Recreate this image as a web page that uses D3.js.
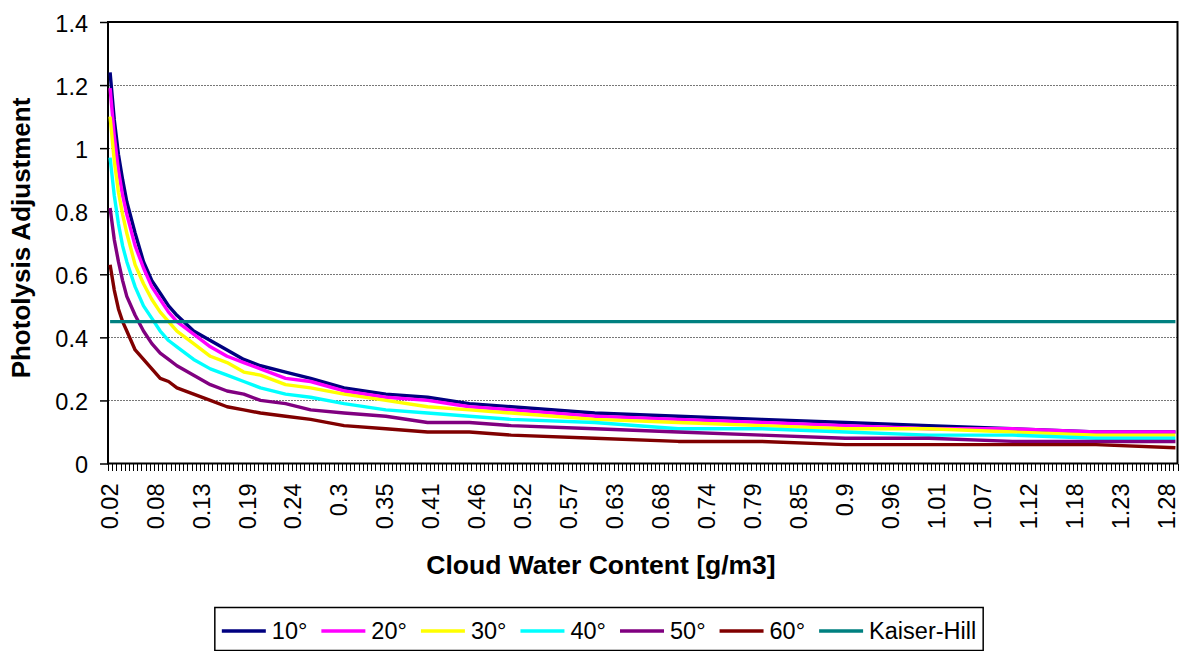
<!DOCTYPE html>
<html>
<head>
<meta charset="utf-8">
<script src="https://cdn.jsdelivr.net/npm/d3@7"></script>
<style>
  body { margin: 0; background: #fff; }
  svg { display: block; font-family: "Liberation Sans", Arial, sans-serif; }
</style>
</head>
<body>
<svg id="chart" width="1182" height="651"></svg>
<script>
// 1. Data
    // cloud water content [g/m3] at the sampled categories
    const cwc = [0.02, 0.025, 0.03, 0.035, 0.04, 0.05, 0.06, 0.07, 0.08, 0.09, 0.10, 0.12, 0.14, 0.16, 0.18,
                 0.20, 0.23, 0.26, 0.30, 0.35, 0.40, 0.45, 0.50, 0.60, 0.70, 0.80, 0.90, 1.00, 1.10, 1.20, 1.295];

    const deg10 = [1.24, 1.09, 0.98, 0.90, 0.83, 0.73, 0.64, 0.58, 0.54, 0.50, 0.47, 0.42, 0.39, 0.36, 0.33,
                   0.31, 0.29, 0.27, 0.24, 0.22, 0.21, 0.19, 0.18, 0.16, 0.15, 0.14, 0.13, 0.12, 0.11, 0.10, 0.10];
    const deg20 = [1.19, 1.04, 0.93, 0.85, 0.79, 0.69, 0.62, 0.56, 0.52, 0.48, 0.45, 0.41, 0.37, 0.34, 0.32,
                   0.30, 0.27, 0.26, 0.23, 0.21, 0.20, 0.18, 0.17, 0.15, 0.14, 0.13, 0.12, 0.11, 0.11, 0.10, 0.10];
    const deg30 = [1.10, 0.96, 0.86, 0.79, 0.73, 0.63, 0.57, 0.52, 0.48, 0.45, 0.42, 0.38, 0.34, 0.32, 0.29,
                   0.28, 0.25, 0.24, 0.22, 0.20, 0.18, 0.17, 0.16, 0.14, 0.13, 0.12, 0.11, 0.11, 0.10, 0.09, 0.09];
    const deg40 = [0.97, 0.85, 0.76, 0.69, 0.64, 0.56, 0.50, 0.46, 0.42, 0.39, 0.37, 0.33, 0.30, 0.28, 0.26,
                   0.24, 0.22, 0.21, 0.19, 0.17, 0.16, 0.15, 0.14, 0.13, 0.11, 0.11, 0.10, 0.09, 0.09, 0.08, 0.08];
    const deg50 = [0.81, 0.71, 0.64, 0.58, 0.53, 0.47, 0.42, 0.38, 0.35, 0.33, 0.31, 0.28, 0.25, 0.23, 0.22,
                   0.20, 0.19, 0.17, 0.16, 0.15, 0.13, 0.13, 0.12, 0.11, 0.10, 0.09, 0.08, 0.08, 0.07, 0.07, 0.07];
    const deg60 = [0.63, 0.55, 0.49, 0.45, 0.42, 0.36, 0.33, 0.30, 0.27, 0.26, 0.24, 0.22, 0.20, 0.18, 0.17,
                   0.16, 0.15, 0.14, 0.12, 0.11, 0.10, 0.10, 0.09, 0.08, 0.07, 0.07, 0.06, 0.06, 0.06, 0.06, 0.05];
    const kaiserHill = [0.45, 0.45, 0.45, 0.45, 0.45, 0.45, 0.45, 0.45, 0.45, 0.45, 0.45, 0.45, 0.45, 0.45, 0.45,
                        0.45, 0.45, 0.45, 0.45, 0.45, 0.45, 0.45, 0.45, 0.45, 0.45, 0.45, 0.45, 0.45, 0.45, 0.45, 0.45];

    const seriesNames = ["10°", "20°", "30°", "40°", "50°", "60°", "Kaiser-Hill"];
    const seriesColors = ["#000080", "#FF00FF", "#FFFF00", "#00FFFF", "#800080", "#800000", "#008080"];
    const seriesValues = [deg10, deg20, deg30, deg40, deg50, deg60, kaiserHill];

    // labelled categories on the x axis
    const xTickValues = [0.02, 0.075, 0.13, 0.185, 0.24, 0.295, 0.35, 0.405, 0.46, 0.515, 0.57, 0.625,
                         0.68, 0.735, 0.79, 0.845, 0.9, 0.955, 1.01, 1.065, 1.12, 1.175, 1.23, 1.285];
    const xTickLabels = ["0.02", "0.08", "0.13", "0.19", "0.24", "0.3", "0.35", "0.41", "0.46", "0.52", "0.57", "0.63",
                         "0.68", "0.74", "0.79", "0.85", "0.9", "0.96", "1.01", "1.07", "1.12", "1.18", "1.23", "1.28"];
    const yTickValues = [0, 0.2, 0.4, 0.6, 0.8, 1.0, 1.2, 1.4];
    const yTickLabels = ["0", "0.2", "0.4", "0.6", "0.8", "1", "1.2", "1.4"];

// 2. Plot frame
    const svg = d3.select("#chart");
    const plotLeft = 108, plotRight = 1177.5, plotTop = 22, plotBottom = 463.5;
    const catStep = 0.005, nCat = 256;

    const x = d3.scaleLinear()
       .domain([0.02 - catStep / 2, 0.02 + (nCat - 0.5) * catStep])
       .range([plotLeft, plotRight]);
    const y = d3.scaleLinear().domain([0, 1.4]).range([plotBottom, plotTop]);

    svg.append("rect").attr("width", 1182).attr("height", 651).attr("fill", "#fff");

// 3. Gridlines
    svg.append("g")
       .selectAll("line")
       .data(yTickValues.filter(d => d > 0 && d < 1.4))
       .enter()
       .append("line")
       .attr("x1", plotLeft).attr("x2", plotRight)
       .attr("y1", d => Math.round(y(d)) + 0.5).attr("y2", d => Math.round(y(d)) + 0.5)
       .attr("stroke", "#777")
       .attr("stroke-width", 1)
       .attr("stroke-dasharray", "2,1");

// 4. Axes
    const yAxis = svg.append("g")
       .attr("transform", `translate(${plotLeft},0)`)
       .call(d3.axisLeft(y).tickValues(yTickValues).tickSize(8).tickPadding(12)
               .tickFormat((d, i) => yTickLabels[i]));
    yAxis.select(".domain").remove();
    yAxis.selectAll("line").attr("stroke", "#000").attr("stroke-width", 1.5);
    yAxis.selectAll("text")
         .attr("fill", "#000")
         .attr("font-size", "23.5px")
         .attr("font-family", "'Liberation Sans', Arial, sans-serif")
         .attr("dy", "0.4em");

    // a tick mark on every category boundary
    const boundaries = d3.range(nCat + 1).map(i => 0.02 - catStep / 2 + i * catStep);
    const minor = svg.append("g")
       .attr("transform", `translate(0,${plotBottom})`)
       .call(d3.axisBottom(x).tickValues(boundaries).tickSize(7).tickFormat(""));
    minor.select(".domain").remove();
    minor.selectAll("line").attr("stroke", "#000").attr("stroke-width", 1).attr("shape-rendering", "crispEdges");

    const xAxis = svg.append("g")
       .attr("transform", `translate(0,${plotBottom})`)
       .call(d3.axisBottom(x).tickValues(xTickValues).tickSize(0).tickFormat((d, i) => xTickLabels[i]));
    xAxis.select(".domain").remove();
    xAxis.selectAll("text")
         .attr("fill", "#000")
         .attr("font-size", "23.5px")
         .attr("font-family", "'Liberation Sans', Arial, sans-serif")
         .attr("text-anchor", "end")
         .attr("transform", "rotate(-90)")
         .attr("x", -20)
         .attr("y", 0)
         .attr("dy", "0.3em");

    // plot border and axis lines
    svg.append("rect")
       .attr("x", plotLeft).attr("y", plotTop)
       .attr("width", plotRight - plotLeft).attr("height", plotBottom - plotTop)
       .attr("fill", "none")
       .attr("stroke", "#000")
       .attr("stroke-width", 2);

// 5. Series lines
    const line = d3.line()
       .x((d, i) => x(cwc[i]))
       .y(d => y(d));

    svg.append("g")
       .selectAll("path")
       .data(seriesValues)
       .enter()
       .append("path")
       .attr("d", line)
       .attr("fill", "none")
       .attr("stroke", (d, i) => seriesColors[i])
       .attr("stroke-width", 3.4)
       .attr("stroke-linejoin", "round");

// 6. Axis titles
    svg.append("text")
       .attr("x", 601).attr("y", 574)
       .attr("text-anchor", "middle")
       .attr("font-size", "26.5px")
       .attr("font-weight", "bold")
       .text("Cloud Water Content [g/m3]");

    svg.append("text")
       .attr("transform", "translate(30,238) rotate(-90)")
       .attr("text-anchor", "middle")
       .attr("font-size", "26px")
       .attr("font-weight", "bold")
       .text("Photolysis Adjustment");

// 7. Legend
    const legendBox = svg.append("rect");
    const legend = svg.append("g");
    const swatch = 44, gap = 6, spacing = 14, pad = 7;
    let lx = 0;
    seriesNames.forEach(function(name, i) {
        const g = legend.append("g").attr("transform", `translate(${lx},0)`);
        g.append("line")
         .attr("x1", 0).attr("x2", swatch)
         .attr("stroke", seriesColors[i])
         .attr("stroke-width", 3.5);
        const t = g.append("text")
         .attr("x", swatch + gap)
         .attr("dy", "0.36em")
         .attr("font-size", "23.5px")
         .text(name);
        lx += swatch + gap + t.node().getComputedTextLength() + spacing;
    });
    const legendWidth = lx - spacing;
    const boxLeft = 599 - legendWidth / 2 - pad;
    legend.attr("transform", `translate(${boxLeft + pad},631)`);
    legendBox
       .attr("x", boxLeft).attr("y", 607.5)
       .attr("width", legendWidth + 2 * pad).attr("height", 43)
       .attr("fill", "#fff")
       .attr("stroke", "#000")
       .attr("stroke-width", 1.5);
</script>
</body>
</html>
